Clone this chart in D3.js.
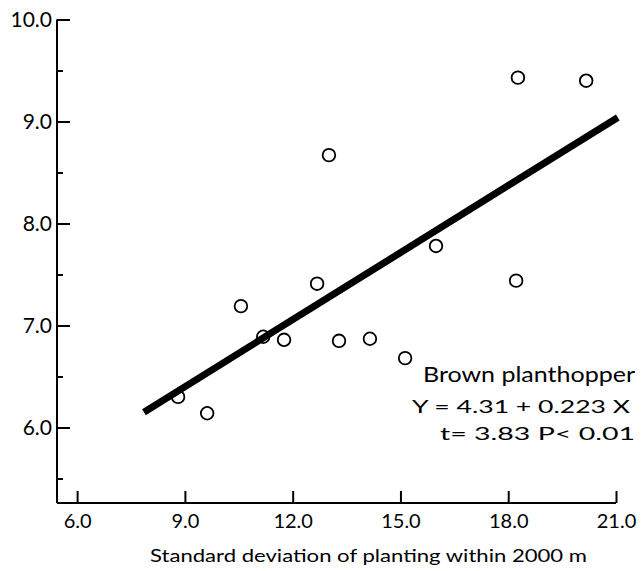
<!DOCTYPE html>
<html>
<head>
<meta charset="utf-8">
<script src="https://cdn.jsdelivr.net/npm/d3@7"></script>
<style>
  html, body { margin: 0; padding: 0; background: #fff; }
  svg { display: block; }
  text { font-family: Lato, "Noto Sans", sans-serif; fill: #000; }
</style>
</head>
<body>
<svg id="chart" width="641" height="571"></svg>
<script>
// ---- data ----
const pointsX = [8.81, 9.62, 10.56, 11.18, 11.76, 12.68, 13.29, 14.15, 15.13, 13.01, 15.99, 18.22, 18.27, 20.17];
const pointsY = [6.30, 6.14, 7.19, 6.89, 6.86, 7.41, 6.85, 6.87, 6.68, 8.67, 7.78, 7.44, 9.43, 9.40];
const lineX = [7.86, 21.05];
const lineY = [6.15, 9.04];
const xTicks = [6, 9, 12, 15, 18, 21];
const yTicks = [6, 7, 8, 9, 10];
const yMinorTicks = [5.5, 6.5, 7.5, 8.5, 9.5];
const xTitle = "Standard deviation of planting within 2000 m";
const legendLines = ["Brown planthopper", "Y = 4.31 + 0.223 X", "t= 3.83 P< 0.01"];

// ---- drawing ----
const svg = d3.select("#chart");
const x = d3.scaleLinear().domain([5.44, 21]).range([57, 616]);
const y = d3.scaleLinear().domain([5.26, 10]).range([503, 19.5]);

// axis lines
svg.append("line").attr("x1", x(5.44)).attr("x2", x(5.44)).attr("y1", y(10)).attr("y2", y(5.26))
  .attr("stroke", "#000").attr("stroke-width", 2);
svg.append("line").attr("x1", x(5.44)).attr("x2", x(21)).attr("y1", y(5.26)).attr("y2", y(5.26))
  .attr("stroke", "#000").attr("stroke-width", 2);

// y axis ticks
const yAxis = d3.axisLeft(y).tickValues(yTicks).tickSizeInner(-13).tickSizeOuter(0).tickPadding(5)
  .tickFormat(d3.format(".1f"));
const gy = svg.append("g").attr("transform", `translate(${x(5.44)},0)`).call(yAxis);
gy.select(".domain").remove();
gy.selectAll(".tick line").attr("stroke", "#000").attr("stroke-width", 2);
gy.selectAll(".tick text").attr("font-size", 21).attr("font-family", "Lato, sans-serif").attr("fill", "#000");

const yMinor = d3.axisLeft(y).tickValues(yMinorTicks).tickSizeInner(-6).tickSizeOuter(0).tickFormat("");
const gym = svg.append("g").attr("transform", `translate(${x(5.44)},0)`).call(yMinor);
gym.select(".domain").remove();
gym.selectAll(".tick line").attr("stroke", "#000").attr("stroke-width", 2);

// x axis ticks
const xAxis = d3.axisBottom(x).tickValues(xTicks).tickSizeInner(-12).tickSizeOuter(0).tickPadding(11)
  .tickFormat(d3.format(".1f"));
const gx = svg.append("g").attr("transform", `translate(0,${y(5.26)})`).call(xAxis);
gx.select(".domain").remove();
gx.selectAll(".tick line").attr("stroke", "#000").attr("stroke-width", 2);
gx.selectAll(".tick text").attr("font-size", 20).attr("font-family", "Lato, sans-serif").attr("fill", "#000");

// x axis title
svg.append("text").attr("x", 150).attr("y", 562).attr("font-size", 18)
  .attr("textLength", 437).attr("lengthAdjust", "spacingAndGlyphs").text(xTitle);

// regression line
svg.append("line")
  .attr("x1", x(lineX[0])).attr("y1", y(lineY[0]))
  .attr("x2", x(lineX[1])).attr("y2", y(lineY[1]))
  .attr("stroke", "#000").attr("stroke-width", 7);

// points
svg.append("g").selectAll("circle").data(pointsX.map((v, i) => [v, pointsY[i]])).join("circle")
  .attr("cx", d => x(d[0])).attr("cy", d => y(d[1])).attr("r", 6.3)
  .attr("fill", "none").attr("stroke", "#000").attr("stroke-width", 1.8);

// legend / equation text
const legPos = [[423, 382, 212, 22], [412, 413, 218, 18], [440, 440, 195, 18]];
legendLines.forEach((t, i) => {
  svg.append("text").attr("x", legPos[i][0]).attr("y", legPos[i][1])
    .attr("font-size", legPos[i][3]).attr("textLength", legPos[i][2])
    .attr("lengthAdjust", "spacingAndGlyphs").text(t);
});
</script>
</body>
</html>
